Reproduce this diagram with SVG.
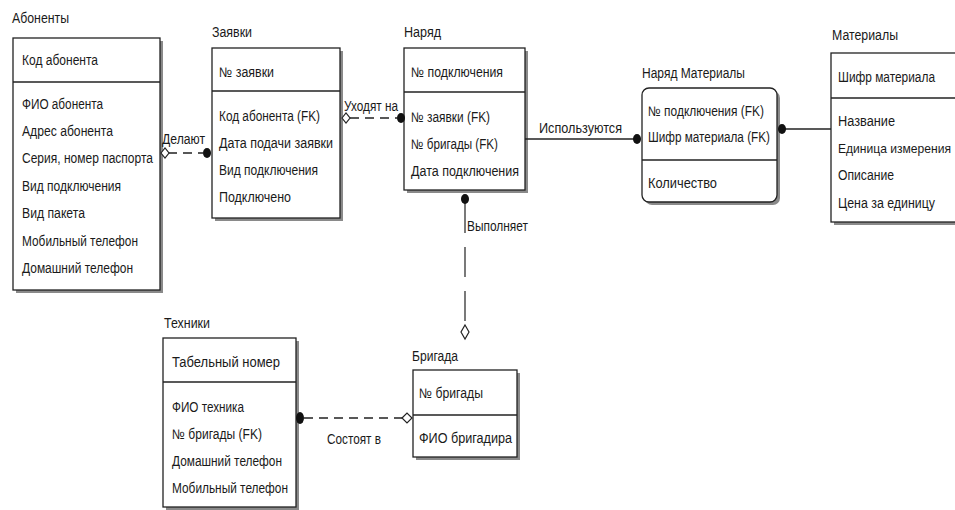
<svg xmlns="http://www.w3.org/2000/svg" width="955" height="510" viewBox="0 0 955 510">
<style>
text{font-family:"Liberation Sans",Arial,sans-serif;font-size:14px;fill:#1a1a1a}
.box{fill:#fff;stroke:#222;stroke-width:1.3}
.sh{fill:#8a8a8a}
.div{stroke:#222;stroke-width:1.3}
.ln{stroke:#222;stroke-width:1.5;fill:none}
.dash{stroke-dasharray:9 6}
.dot{fill:#111}
.dia{fill:#fff;stroke:#222;stroke-width:1.2}
</style>
<rect width="955" height="510" fill="#fff"/>

<g id="abonenty">
<text x="12" y="23" textLength="57" lengthAdjust="spacingAndGlyphs">Абоненты</text>
<rect class="sh" x="16" y="41" width="147" height="252"/>
<rect class="box" x="13" y="38" width="147" height="252"/>
<line class="div" x1="13" y1="82" x2="160" y2="82"/>
<text x="22" y="65" textLength="76" lengthAdjust="spacingAndGlyphs">Код абонента</text>
<text x="22" y="109" textLength="81" lengthAdjust="spacingAndGlyphs">ФИО абонента</text>
<text x="22" y="136" textLength="91" lengthAdjust="spacingAndGlyphs">Адрес абонента</text>
<text x="22" y="163" textLength="131" lengthAdjust="spacingAndGlyphs">Серия, номер паспорта</text>
<text x="22" y="191" textLength="99" lengthAdjust="spacingAndGlyphs">Вид подключения</text>
<text x="22" y="218" textLength="63" lengthAdjust="spacingAndGlyphs">Вид пакета</text>
<text x="22" y="246" textLength="116" lengthAdjust="spacingAndGlyphs">Мобильный телефон</text>
<text x="22" y="273" textLength="111" lengthAdjust="spacingAndGlyphs">Домашний телефон</text>
</g>

<g id="zayavki">
<text x="212" y="37" textLength="40" lengthAdjust="spacingAndGlyphs">Заявки</text>
<rect class="sh" x="215" y="51" width="128" height="170"/>
<rect class="box" x="212" y="48" width="128" height="170"/>
<line class="div" x1="212" y1="91" x2="340" y2="91"/>
<text x="219" y="77" textLength="55" lengthAdjust="spacingAndGlyphs">№ заявки</text>
<text x="219" y="121" textLength="101" lengthAdjust="spacingAndGlyphs">Код абонента (FK)</text>
<text x="219" y="148" textLength="114" lengthAdjust="spacingAndGlyphs">Дата подачи заявки</text>
<text x="219" y="175" textLength="99" lengthAdjust="spacingAndGlyphs">Вид подключения</text>
<text x="219" y="202" textLength="72" lengthAdjust="spacingAndGlyphs">Подключено</text>
</g>

<g id="naryad">
<text x="404" y="37" textLength="37" lengthAdjust="spacingAndGlyphs">Наряд</text>
<rect class="sh" x="407" y="51" width="121" height="142"/>
<rect class="box" x="404" y="48" width="121" height="142"/>
<line class="div" x1="404" y1="92" x2="525" y2="92"/>
<text x="411" y="77" textLength="92" lengthAdjust="spacingAndGlyphs">№ подключения</text>
<text x="411" y="122" textLength="79" lengthAdjust="spacingAndGlyphs">№ заявки (FK)</text>
<text x="411" y="149" textLength="87" lengthAdjust="spacingAndGlyphs">№ бригады (FK)</text>
<text x="411" y="176" textLength="108" lengthAdjust="spacingAndGlyphs">Дата подключения</text>
</g>

<g id="naryad-materialy">
<text x="642" y="78" textLength="103" lengthAdjust="spacingAndGlyphs">Наряд Материалы</text>
<rect class="sh" x="645" y="91" width="135" height="114" rx="7"/>
<rect class="box" x="642" y="88" width="135" height="114" rx="7"/>
<line class="div" x1="642" y1="160" x2="777" y2="160"/>
<text x="648" y="116" textLength="116" lengthAdjust="spacingAndGlyphs">№ подключения (FK)</text>
<text x="648" y="142" textLength="122" lengthAdjust="spacingAndGlyphs">Шифр материала (FK)</text>
<text x="648" y="188" textLength="69" lengthAdjust="spacingAndGlyphs">Количество</text>
</g>

<g id="materialy">
<text x="832" y="40" textLength="66" lengthAdjust="spacingAndGlyphs">Материалы</text>
<rect class="sh" x="834" y="56" width="130" height="169"/>
<rect class="box" x="831" y="53" width="130" height="169"/>
<line class="div" x1="831" y1="98" x2="961" y2="98"/>
<text x="838" y="82" textLength="97" lengthAdjust="spacingAndGlyphs">Шифр материала</text>
<text x="838" y="126" textLength="57" lengthAdjust="spacingAndGlyphs">Название</text>
<text x="838" y="153" style="font-size:13px" textLength="113" lengthAdjust="spacingAndGlyphs">Единица измерения</text>
<text x="838" y="180" textLength="56" lengthAdjust="spacingAndGlyphs">Описание</text>
<text x="838" y="208" textLength="97" lengthAdjust="spacingAndGlyphs">Цена за единицу</text>
</g>

<g id="tehniki">
<text x="164" y="328" textLength="46" lengthAdjust="spacingAndGlyphs">Техники</text>
<rect class="sh" x="166" y="341" width="133" height="169"/>
<rect class="box" x="163" y="338" width="133" height="169"/>
<line class="div" x1="163" y1="382" x2="296" y2="382"/>
<text x="172" y="367" textLength="108" lengthAdjust="spacingAndGlyphs">Табельный номер</text>
<text x="172" y="412" textLength="72" lengthAdjust="spacingAndGlyphs">ФИО техника</text>
<text x="172" y="439" textLength="90" lengthAdjust="spacingAndGlyphs">№ бригады (FK)</text>
<text x="172" y="466" textLength="110" lengthAdjust="spacingAndGlyphs">Домашний телефон</text>
<text x="172" y="493" textLength="116" lengthAdjust="spacingAndGlyphs">Мобильный телефон</text>
</g>

<g id="brigada">
<text x="412" y="361" textLength="46" lengthAdjust="spacingAndGlyphs">Бригада</text>
<rect class="sh" x="416" y="373" width="104" height="87"/>
<rect class="box" x="413" y="370" width="104" height="87"/>
<line class="div" x1="413" y1="415" x2="517" y2="415"/>
<text x="419" y="398" textLength="64" lengthAdjust="spacingAndGlyphs">№ бригады</text>
<text x="419" y="443" textLength="93" lengthAdjust="spacingAndGlyphs">ФИО бригадира</text>
</g>

<g id="connectors">
<line class="ln dash" x1="168" y1="153" x2="203" y2="153"/>
<path class="dia" d="M161 153 L165 148 L169 153 L165 158 Z"/>
<ellipse class="dot" cx="207" cy="153" rx="4" ry="5"/>
<text x="162" y="144" textLength="43" lengthAdjust="spacingAndGlyphs">Делают</text>
<line class="ln dash" x1="350" y1="118" x2="397" y2="118"/>
<path class="dia" d="M342 118 L346 113 L350 118 L346 123 Z"/>
<ellipse class="dot" cx="401" cy="118" rx="4" ry="5"/>
<text x="344" y="111" textLength="54" lengthAdjust="spacingAndGlyphs">Уходят на</text>
<line class="ln" x1="525" y1="139" x2="634" y2="139"/>
<ellipse class="dot" cx="637" cy="139" rx="4" ry="5"/>
<text x="539" y="133" textLength="83" lengthAdjust="spacingAndGlyphs">Используются</text>
<line class="ln" x1="785" y1="129" x2="831" y2="129"/>
<ellipse class="dot" cx="782" cy="129" rx="4" ry="5"/>
<line class="ln dash" x1="465" y1="203" x2="465" y2="325" style="stroke-dasharray:30 14;stroke-width:1.2"/>
<ellipse class="dot" cx="465" cy="199" rx="4" ry="5"/>
<path class="dia" d="M465 325 L469 332 L465 339 L461 332 Z"/>
<text x="467" y="231" textLength="61" lengthAdjust="spacingAndGlyphs">Выполняет</text>
<line class="ln dash" x1="304" y1="418" x2="403" y2="418"/>
<ellipse class="dot" cx="300" cy="418" rx="4" ry="6"/>
<path class="dia" d="M402 418 L407 413 L412 418 L407 423 Z"/>
<text x="327" y="444" textLength="54" lengthAdjust="spacingAndGlyphs">Состоят в</text>
</g>
</svg>
